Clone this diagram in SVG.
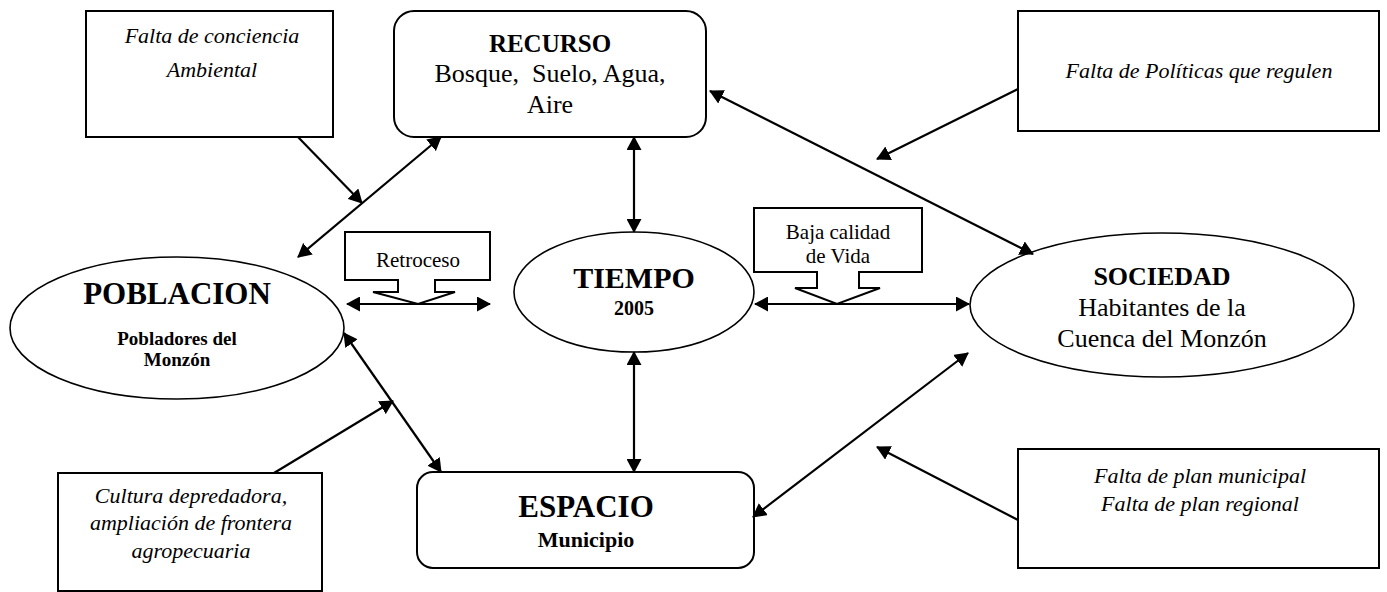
<svg xmlns="http://www.w3.org/2000/svg" width="1387" height="592" viewBox="0 0 1387 592">
<defs>
<style>
.box{fill:#fff;stroke:#000;stroke-width:2}
.ell{fill:#fff;stroke:#000;stroke-width:1.6}
.it{font-family:"Liberation Serif","Times New Roman",serif;font-style:italic;font-size:22px;text-anchor:middle;fill:#000}
.rg{font-family:"Liberation Serif","Times New Roman",serif;text-anchor:middle;fill:#000}
.b{font-weight:bold}
.ln{fill:none;stroke:#000;stroke-width:2.2}
</style>
<marker id="ah" viewBox="0 0 14 15" refX="13" refY="7.5" markerWidth="14" markerHeight="15" markerUnits="userSpaceOnUse" orient="auto-start-reverse">
<path d="M0,0 L14,7.5 L0,15 z" fill="#000"/>
</marker>
</defs>
<rect width="1387" height="592" fill="#fff"/>

<g id="conciencia">
<rect class="box" x="86" y="11" width="247" height="126"/>
<text class="it" x="212" y="43">Falta de conciencia</text>
<text class="it" x="212" y="77">Ambiental</text>
</g>

<g id="recurso">
<rect class="box" x="394" y="11" width="312" height="126" rx="20"/>
<text class="rg b" x="550" y="52" font-size="25">RECURSO</text>
<text class="rg" x="550" y="82" font-size="26">Bosque,&#160; Suelo, Agua,</text>
<text class="rg" x="550" y="113" font-size="26">Aire</text>
</g>

<g id="politicas">
<rect class="box" x="1018" y="11" width="361" height="120"/>
<text class="it" x="1199" y="78">Falta de Políticas que regulen</text>
</g>

<g id="poblacion">
<ellipse class="ell" cx="177" cy="328" rx="167" ry="71"/>
<text class="rg b" x="177" y="304" font-size="31">POBLACION</text>
<text class="rg b" x="177" y="345" font-size="19">Pobladores del</text>
<text class="rg b" x="177" y="366" font-size="19">Monzón</text>
</g>

<g id="retroceso">
<path class="box" d="M345,232 H490 V280 H435 V292 H455 L418,304 L373,292 H398 V280 H345 Z"/>
<text class="rg" x="418" y="267" font-size="21">Retroceso</text>
</g>

<g id="tiempo">
<ellipse class="ell" cx="634" cy="292" rx="120" ry="60"/>
<text class="rg b" x="634" y="288" font-size="30">TIEMPO</text>
<text class="rg b" x="634" y="315" font-size="20">2005</text>
</g>

<g id="baja">
<path class="box" d="M754,208 H922 V272 H859 V288 H880 L837,304 L795,288 H817 V272 H754 Z"/>
<text class="rg" x="838" y="239" font-size="21">Baja calidad</text>
<text class="rg" x="838" y="263" font-size="21">de Vida</text>
</g>

<g id="sociedad">
<ellipse class="ell" cx="1162" cy="305" rx="192" ry="72"/>
<text class="rg b" x="1162" y="285" font-size="26">SOCIEDAD</text>
<text class="rg" x="1162" y="316" font-size="26">Habitantes de la</text>
<text class="rg" x="1162" y="347" font-size="26">Cuenca del Monzón</text>
</g>

<g id="cultura">
<rect class="box" x="58" y="473" width="264" height="118"/>
<text class="it" x="191" y="503">Cultura depredadora,</text>
<text class="it" x="191" y="530">ampliación de frontera</text>
<text class="it" x="191" y="558">agropecuaria</text>
</g>

<g id="espacio">
<rect class="box" x="417" y="472" width="337" height="96" rx="16"/>
<text class="rg b" x="586" y="517" font-size="31">ESPACIO</text>
<text class="rg b" x="586" y="547" font-size="22">Municipio</text>
</g>

<g id="plan">
<rect class="box" x="1018" y="449" width="361" height="119"/>
<text class="it" x="1200" y="483">Falta de plan municipal</text>
<text class="it" x="1200" y="511">Falta de plan regional</text>
</g>

<g id="connectors">
<line class="ln" x1="298" y1="137" x2="362" y2="203" marker-end="url(#ah)"/>
<line class="ln" x1="298" y1="257" x2="441" y2="137" marker-start="url(#ah)" marker-end="url(#ah)"/>
<line class="ln" x1="634" y1="137" x2="634" y2="232" marker-start="url(#ah)" marker-end="url(#ah)"/>
<line class="ln" x1="710" y1="91" x2="1033" y2="254" marker-start="url(#ah)" marker-end="url(#ah)"/>
<line class="ln" x1="1018" y1="89" x2="877" y2="159" marker-end="url(#ah)"/>
<line class="ln" x1="347" y1="304" x2="490" y2="304" marker-start="url(#ah)" marker-end="url(#ah)"/>
<line class="ln" x1="755" y1="304" x2="969" y2="304" marker-start="url(#ah)" marker-end="url(#ah)"/>
<line class="ln" x1="344" y1="333" x2="441" y2="472" marker-start="url(#ah)" marker-end="url(#ah)"/>
<line class="ln" x1="274" y1="473" x2="393" y2="401" marker-end="url(#ah)"/>
<line class="ln" x1="634" y1="352" x2="634" y2="472" marker-start="url(#ah)" marker-end="url(#ah)"/>
<line class="ln" x1="968" y1="353" x2="753" y2="517" marker-start="url(#ah)" marker-end="url(#ah)"/>
<line class="ln" x1="1018" y1="520" x2="877" y2="447" marker-end="url(#ah)"/>
</g>
</svg>
